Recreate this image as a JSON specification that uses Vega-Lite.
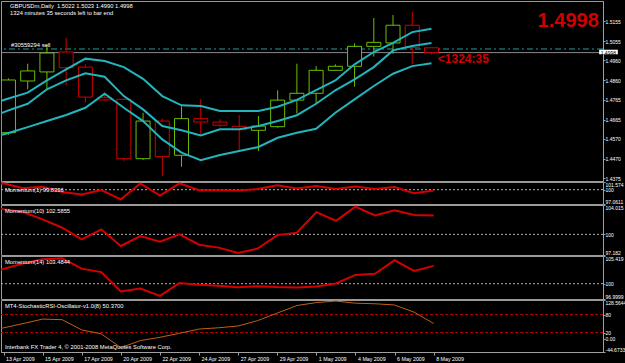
{
  "$schema": "https://vega.github.io/schema/vega-lite/v6.json",
  "background": "#000000",
  "padding": {"left": 0, "top": 0, "right": 22, "bottom": 12},
  "spacing": 1,
  "bounds": "flush",
  "config": {
    "view": {"stroke": "#9a9a9a", "strokeWidth": 1},
    "axis": {"labelFont": "Liberation Sans", "labelFontSize": 5, "labelColor": "#ffffff", "domainColor": "#a0a0a0", "tickColor": "#a0a0a0", "tickSize": 2, "grid": false, "labelPadding": 0, "labelOverlap": false},
    "text": {"font": "Liberation Sans", "fontSize": 5.8, "color": "#ffffff"}
  },
  "datasets": {
    "bars": [
      {"i": -1, "d": "12 Apr 2009", "u": 1.4740, "m": 1.4675, "lo": 1.4572, "m1": 100.8, "m10": 104.0, "m14": 101.6, "s": 26},
      {"i": 0, "d": "13 Apr 2009", "o": 1.4600, "h": 1.4870, "l": 1.4590, "c": 1.4862, "u": 1.4770, "m": 1.4711, "lo": 1.4599, "m1": 101.31, "m10": 103.43, "m14": 102.9, "s": 35.7},
      {"i": 1, "d": "14 Apr 2009", "o": 1.4857, "h": 1.4943, "l": 1.4816, "c": 1.4907, "u": 1.4799, "m": 1.4744, "lo": 1.4628, "m1": 100.30, "m10": 103.06, "m14": 103.96, "s": 50},
      {"i": 2, "d": "15 Apr 2009", "o": 1.4902, "h": 1.5039, "l": 1.4816, "c": 1.4996, "u": 1.4860, "m": 1.4816, "lo": 1.4658, "m1": 100.60, "m10": 102.06, "m14": 104.76, "s": 65},
      {"i": 3, "d": "16 Apr 2009", "o": 1.5001, "h": 1.5072, "l": 1.4836, "c": 1.4923, "u": 1.4915, "m": 1.4860, "lo": 1.4688, "m1": 99.51, "m10": 100.91, "m14": 104.96, "s": 63},
      {"i": 4, "d": "17 Apr 2009", "o": 1.4926, "h": 1.4940, "l": 1.4749, "c": 1.4777, "u": 1.4968, "m": 1.4895, "lo": 1.4724, "m1": 99.02, "m10": 99.33, "m14": 102.95, "s": 29},
      {"i": 5, "d": "19 Apr 2009", "o": 1.4774, "h": 1.4799, "l": 1.4760, "c": 1.4763, "u": 1.4956, "m": 1.4878, "lo": 1.4794, "m1": 99.91, "m10": 100.69, "m14": 102.27, "s": 15.7},
      {"i": 6, "d": "20 Apr 2009", "o": 1.4766, "h": 1.4769, "l": 1.4460, "c": 1.4471, "u": 1.4926, "m": 1.4782, "lo": 1.4724, "m1": 98.02, "m10": 98.41, "m14": 98.46, "s": -30},
      {"i": 7, "d": "21 Apr 2009", "o": 1.4471, "h": 1.4699, "l": 1.4465, "c": 1.4658, "u": 1.4868, "m": 1.4716, "lo": 1.4658, "m1": 101.29, "m10": 99.78, "m14": 99.06, "s": -6.7},
      {"i": 8, "d": "22 Apr 2009", "o": 1.4658, "h": 1.4670, "l": 1.4385, "c": 1.4481, "u": 1.4782, "m": 1.4633, "lo": 1.4567, "m1": 98.79, "m10": 99.00, "m14": 97.60, "s": 4.3},
      {"i": 9, "d": "23 Apr 2009", "o": 1.4488, "h": 1.4731, "l": 1.4431, "c": 1.4670, "u": 1.4736, "m": 1.4612, "lo": 1.4501, "m1": 101.31, "m10": 100.01, "m14": 100.15, "s": 17.7},
      {"i": 10, "d": "24 Apr 2009", "o": 1.4670, "h": 1.4766, "l": 1.4592, "c": 1.4653, "u": 1.4733, "m": 1.4587, "lo": 1.4464, "m1": 99.88, "m10": 98.59, "m14": 99.81, "s": 31.7},
      {"i": 11, "d": "26 Apr 2009", "o": 1.4653, "h": 1.4667, "l": 1.4628, "c": 1.4637, "u": 1.4708, "m": 1.4617, "lo": 1.4489, "m1": 99.89, "m10": 98.19, "m14": 99.6, "s": 36},
      {"i": 12, "d": "27 Apr 2009", "o": 1.4632, "h": 1.4688, "l": 1.4509, "c": 1.4615, "u": 1.4708, "m": 1.4617, "lo": 1.4509, "m1": 99.85, "m10": 97.46, "m14": 99.3, "s": 42},
      {"i": 13, "d": "28 Apr 2009", "o": 1.4612, "h": 1.4683, "l": 1.4509, "c": 1.4633, "u": 1.4708, "m": 1.4633, "lo": 1.4529, "m1": 100.12, "m10": 98.06, "m14": 99.5, "s": 60},
      {"i": 14, "d": "29 Apr 2009", "o": 1.4630, "h": 1.4811, "l": 1.4625, "c": 1.4762, "u": 1.4729, "m": 1.4658, "lo": 1.4575, "m1": 100.88, "m10": 99.90, "m14": 99.33, "s": 85},
      {"i": 15, "d": "30 Apr 2009", "o": 1.4762, "h": 1.4943, "l": 1.4695, "c": 1.4796, "u": 1.4763, "m": 1.4687, "lo": 1.4600, "m1": 100.23, "m10": 100.22, "m14": 99.26, "s": 110},
      {"i": 16, "d": "1 May 2009", "o": 1.4796, "h": 1.4931, "l": 1.4744, "c": 1.4910, "u": 1.4812, "m": 1.4744, "lo": 1.4620, "m1": 100.77, "m10": 103.03, "m14": 99.43, "s": 120},
      {"i": 17, "d": "3 May 2009", "o": 1.4910, "h": 1.4940, "l": 1.4908, "c": 1.4930, "u": 1.4860, "m": 1.4811, "lo": 1.4699, "m1": 100.13, "m10": 101.86, "m14": 100.05, "s": 125},
      {"i": 18, "d": "4 May 2009", "o": 1.4930, "h": 1.5044, "l": 1.4829, "c": 1.5029, "u": 1.4940, "m": 1.4865, "lo": 1.4766, "m1": 100.66, "m10": 103.78, "m14": 101.71, "s": 118},
      {"i": 19, "d": "5 May 2009", "o": 1.5029, "h": 1.5170, "l": 1.4978, "c": 1.5049, "u": 1.5001, "m": 1.4926, "lo": 1.4832, "m1": 100.13, "m10": 102.58, "m14": 101.94, "s": 116},
      {"i": 20, "d": "6 May 2009", "o": 1.5046, "h": 1.5185, "l": 1.4993, "c": 1.5134, "u": 1.5046, "m": 1.5009, "lo": 1.4893, "m1": 100.56, "m10": 103.28, "m14": 104.58, "s": 112},
      {"i": 21, "d": "7 May 2009", "o": 1.5134, "h": 1.5200, "l": 1.4940, "c": 1.5023, "u": 1.5100, "m": 1.5031, "lo": 1.4931, "m1": 99.27, "m10": 102.64, "m14": 102.49, "s": 88},
      {"i": 22, "d": "8 May 2009", "o": 1.5022, "h": 1.5023, "l": 1.4990, "c": 1.4998, "u": 1.5117, "m": 1.5046, "lo": 1.4945, "m1": 99.8336, "m10": 102.5855, "m14": 103.4844, "s": 50.37}
    ]
  },
  "vconcat": [
    {
      "width": 602, "height": 180,
      "data": {"name": "bars"},
      "layer": [
        {"data": {"values": [{}]}, "mark": {"type": "rule", "color": "#8a8a8a", "strokeWidth": 1},
         "encoding": {"y": {"datum": 1.4998, "type": "quantitative", "scale": {"domain": [1.43602, 1.52544], "nice": false, "zero": false},
           "axis": {"orient": "right", "title": null, "values": [1.4375, 1.447, 1.457, 1.4665, 1.4765, 1.486, 1.496, 1.5055, 1.5155], "tickCount": 50, "format": ".4f", "labelFlush": false, "labelOverlap": false}}}},
        {"data": {"values": [{}]}, "mark": {"type": "rule", "color": "#1f9c9c", "strokeWidth": 1, "strokeDash": [6, 3, 2, 3]},
         "encoding": {"y": {"datum": 1.5016, "type": "quantitative"}}},
        {"mark": {"type": "rule", "strokeWidth": 1, "clip": true},
         "encoding": {
           "x": {"field": "i", "type": "quantitative", "scale": {"domain": [-0.128, 30.66], "nice": false, "zero": false}, "axis": null},
           "y": {"field": "l", "type": "quantitative"}, "y2": {"field": "h"},
           "color": {"condition": {"test": "datum.c >= datum.o", "value": "#6cbf00"}, "value": "#d00000"}}},
        {"mark": {"type": "bar", "width": 14, "fill": "#000000", "strokeWidth": 1, "clip": true},
         "encoding": {
           "x": {"field": "i", "type": "quantitative", "axis": null},
           "y": {"field": "o", "type": "quantitative"}, "y2": {"field": "c"},
           "stroke": {"condition": {"test": "datum.c >= datum.o", "value": "#6cbf00"}, "value": "#d00000"}}},
        {"mark": {"type": "line", "color": "#22b5bd", "strokeWidth": 2, "clip": true},
         "encoding": {"x": {"field": "i", "type": "quantitative", "axis": null}, "y": {"field": "u", "type": "quantitative"}}},
        {"mark": {"type": "line", "color": "#22b5bd", "strokeWidth": 2, "clip": true},
         "encoding": {"x": {"field": "i", "type": "quantitative", "axis": null}, "y": {"field": "m", "type": "quantitative"}}},
        {"mark": {"type": "line", "color": "#22b5bd", "strokeWidth": 2, "clip": true},
         "encoding": {"x": {"field": "i", "type": "quantitative", "axis": null}, "y": {"field": "lo", "type": "quantitative"}}},
        {"data": {"values": [{"t": "GBPUSDm,Daily\u00a0 1.5022 1.5023 1.4990 1.4998"}]},
         "mark": {"type": "text", "align": "left", "baseline": "top", "dx": 4, "dy": 2},
         "encoding": {"x": {"datum": -0.128, "type": "quantitative", "axis": null}, "y": {"datum": 1.52544, "type": "quantitative"}, "text": {"field": "t"}}},
        {"data": {"values": [{"t": "1324 minutes 35 seconds left to bar end"}]},
         "mark": {"type": "text", "align": "left", "baseline": "top", "dx": 4, "dy": 9},
         "encoding": {"x": {"datum": -0.128, "type": "quantitative", "axis": null}, "y": {"datum": 1.52544, "type": "quantitative"}, "text": {"field": "t"}}},
        {"data": {"values": [{"t": "#30559294 sell"}]},
         "mark": {"type": "text", "align": "left", "baseline": "bottom", "dx": 5, "dy": -1},
         "encoding": {"x": {"datum": -0.128, "type": "quantitative", "axis": null}, "y": {"datum": 1.5016, "type": "quantitative"}, "text": {"field": "t"}}},
        {"data": {"values": [{"t": "1.4998"}]},
         "mark": {"type": "text", "align": "right", "baseline": "alphabetic", "fontSize": 20, "fontWeight": "bold", "color": "#d00000"},
         "encoding": {"x": {"datum": 30.7, "type": "quantitative", "axis": null}, "y": {"datum": 1.5125, "type": "quantitative"}, "text": {"field": "t"}}},
        {"data": {"values": [{"t": "<1324:35"}]},
         "mark": {"type": "text", "align": "left", "baseline": "alphabetic", "fontSize": 12, "fontWeight": "bold", "color": "#d00000"},
         "encoding": {"x": {"datum": 22.33, "type": "quantitative", "axis": null}, "y": {"datum": 1.4948, "type": "quantitative"}, "text": {"field": "t"}}},
        {"data": {"values": [{}]}, "mark": {"type": "rect", "color": "#ffffff"},
         "encoding": {"x": {"datum": 30.72, "type": "quantitative", "axis": null}, "x2": {"datum": 31.69}, "y": {"datum": 1.50124, "type": "quantitative"}, "y2": {"datum": 1.49896}}},
        {"data": {"values": [{"t": "1.4998"}]},
         "mark": {"type": "text", "align": "left", "baseline": "middle", "fontSize": 5, "color": "#000000"},
         "encoding": {"x": {"datum": 30.8, "type": "quantitative", "axis": null}, "y": {"datum": 1.4998, "type": "quantitative"}, "text": {"field": "t"}}}
      ]
    },
    {
      "width": 602, "height": 22,
      "data": {"name": "bars"},
      "layer": [
        {"data": {"values": [{}]}, "mark": {"type": "rule", "color": "#b0b0b0", "strokeWidth": 1, "strokeDash": [2, 2]},
         "encoding": {"y": {"datum": 100, "type": "quantitative", "scale": {"domain": [97.0611, 101.574], "nice": false, "zero": false},
           "axis": {"orient": "right", "title": null, "values": [97.0611, 100, 101.574], "tickCount": 50, "format": ".6~r", "labelFlush": true, "labelOverlap": false}}}},
        {"mark": {"type": "line", "color": "#d40000", "strokeWidth": 2, "clip": true},
         "encoding": {"x": {"field": "i", "type": "quantitative", "scale": {"domain": [-0.128, 30.66], "nice": false, "zero": false}, "axis": null},
           "y": {"field": "m1", "type": "quantitative"}}},
        {"data": {"values": [{"t": "Momentum(1) 99.8336"}]},
         "mark": {"type": "text", "align": "left", "baseline": "top", "dx": 4, "dy": 5},
         "encoding": {"x": {"datum": -0.128, "type": "quantitative", "axis": null}, "y": {"datum": 101.574, "type": "quantitative"}, "text": {"field": "t"}}}
      ]
    },
    {
      "width": 602, "height": 50,
      "data": {"name": "bars"},
      "layer": [
        {"data": {"values": [{}]}, "mark": {"type": "rule", "color": "#b0b0b0", "strokeWidth": 1, "strokeDash": [2, 2]},
         "encoding": {"y": {"datum": 100, "type": "quantitative", "scale": {"domain": [97.182, 104.015], "nice": false, "zero": false},
           "axis": {"orient": "right", "title": null, "values": [97.182, 100, 104.015], "tickCount": 50, "format": ".6~r", "labelFlush": true, "labelOverlap": false}}}},
        {"mark": {"type": "line", "color": "#d40000", "strokeWidth": 2, "clip": true},
         "encoding": {"x": {"field": "i", "type": "quantitative", "scale": {"domain": [-0.128, 30.66], "nice": false, "zero": false}, "axis": null},
           "y": {"field": "m10", "type": "quantitative"}}},
        {"data": {"values": [{"t": "Momentum(10) 102.5855"}]},
         "mark": {"type": "text", "align": "left", "baseline": "top", "dx": 4, "dy": 3},
         "encoding": {"x": {"datum": -0.128, "type": "quantitative", "axis": null}, "y": {"datum": 104.015, "type": "quantitative"}, "text": {"field": "t"}}}
      ]
    },
    {
      "width": 602, "height": 43,
      "data": {"name": "bars"},
      "layer": [
        {"data": {"values": [{}]}, "mark": {"type": "rule", "color": "#b0b0b0", "strokeWidth": 1, "strokeDash": [2, 2]},
         "encoding": {"y": {"datum": 100, "type": "quantitative", "scale": {"domain": [96.9999, 105.419], "nice": false, "zero": false},
           "axis": {"orient": "right", "title": null, "values": [96.9999, 100, 105.419], "tickCount": 50, "format": ".6~r", "labelFlush": true, "labelOverlap": false}}}},
        {"mark": {"type": "line", "color": "#d40000", "strokeWidth": 2, "clip": true},
         "encoding": {"x": {"field": "i", "type": "quantitative", "scale": {"domain": [-0.128, 30.66], "nice": false, "zero": false}, "axis": null},
           "y": {"field": "m14", "type": "quantitative"}}},
        {"data": {"values": [{"t": "Momentum(14) 103.4844"}]},
         "mark": {"type": "text", "align": "left", "baseline": "top", "dx": 4, "dy": 3},
         "encoding": {"x": {"datum": -0.128, "type": "quantitative", "axis": null}, "y": {"datum": 105.419, "type": "quantitative"}, "text": {"field": "t"}}}
      ]
    },
    {
      "width": 602, "height": 52,
      "data": {"name": "bars"},
      "layer": [
        {"data": {"values": [{}]}, "mark": {"type": "rule", "color": "#c00000", "strokeWidth": 1, "strokeDash": [3, 2]},
         "encoding": {"y": {"datum": 80, "type": "quantitative", "scale": {"domain": [-44.6733, 128.5644], "nice": false, "zero": false},
           "axis": {"orient": "right", "title": null, "values": [-44.6733, 0, 20, 80, 128.5644], "tickCount": 50, "labelExpr": "datum.value < 0 ? '-44.6733' : datum.value == 0 ? '0.00' : format(datum.value, '.7~r')", "labelFlush": true, "labelOverlap": false}}}},
        {"data": {"values": [{}]}, "mark": {"type": "rule", "color": "#c00000", "strokeWidth": 1, "strokeDash": [3, 2]},
         "encoding": {"y": {"datum": 20, "type": "quantitative"}}},
        {"mark": {"type": "line", "color": "#c06018", "strokeWidth": 1, "clip": true},
         "encoding": {"x": {"field": "i", "type": "quantitative", "scale": {"domain": [-0.128, 30.66], "nice": false, "zero": false},
             "axis": {"orient": "bottom", "title": null, "values": [0, 2, 4, 6, 8, 10, 12, 14, 16, 18, 20, 22], "tickCount": 50, "labelExpr": "['13 Apr 2009','15 Apr 2009','17 Apr 2009','20 Apr 2009','22 Apr 2009','24 Apr 2009','27 Apr 2009','29 Apr 2009','1 May 2009','4 May 2009','6 May 2009','8 May 2009'][round(datum.value / 2)]", "labelAlign": "left", "labelOffset": 2, "labelFontSize": 5.3, "tickSize": 3, "labelFlush": false, "labelOverlap": false, "labelPadding": 1}},
           "y": {"field": "s", "type": "quantitative"}}},
        {"data": {"values": [{"t": "MT4-StochasticRSI-Oscillator-v1.0(8) 50.3700"}]},
         "mark": {"type": "text", "align": "left", "baseline": "top", "dx": 4, "dy": 3},
         "encoding": {"x": {"datum": -0.128, "type": "quantitative"}, "y": {"datum": 128.5644, "type": "quantitative"}, "text": {"field": "t"}}},
        {"data": {"values": [{"t": "Interbank FX Trader 4, © 2001-2008 MetaQuotes Software Corp."}]},
         "mark": {"type": "text", "align": "left", "baseline": "bottom", "dx": 4, "dy": -2.5},
         "encoding": {"x": {"datum": -0.128, "type": "quantitative"}, "y": {"datum": -44.6733, "type": "quantitative"}, "text": {"field": "t"}}}
      ]
    }
  ]
}
